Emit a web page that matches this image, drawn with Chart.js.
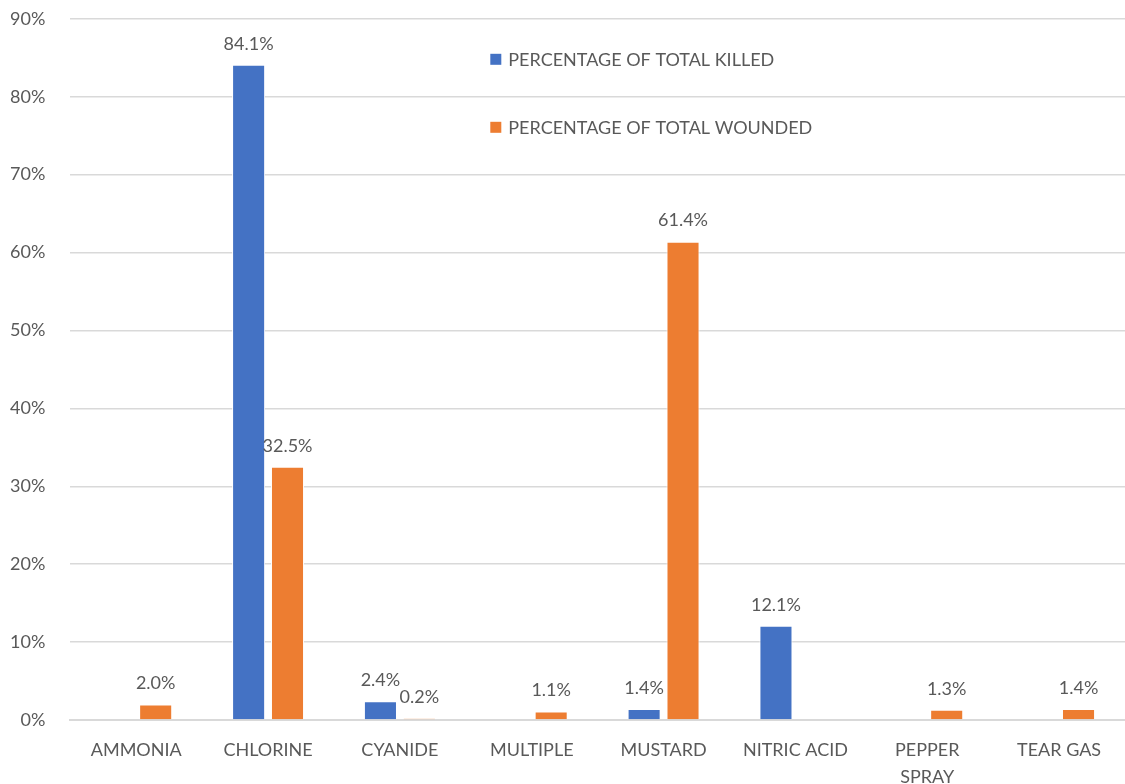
<!DOCTYPE html>
<html>
<head>
<meta charset="utf-8">
<script src="https://cdn.jsdelivr.net/npm/chart.js@4/dist/chart.umd.min.js"></script>
<style>
  html, body { margin: 0; padding: 0; background: #fff; }
  #wrap { width: 1125px; height: 784px; }
</style>
</head>
<body>
<div id="wrap"><canvas id="myChart" width="1125" height="784"></canvas></div>
<script>
let agents = ["AMMONIA", "CHLORINE", "CYANIDE", "MULTIPLE", "MUSTARD", "NITRIC ACID", ["PEPPER", "SPRAY"], "TEAR GAS"];
let killed = [0, 84.1, 2.4, 0, 1.4, 12.1, 0, 0];
let wounded = [2.0, 32.5, 0.2, 1.1, 61.4, 0, 1.3, 1.4];
let yTicks = [0, 10, 20, 30, 40, 50, 60, 70, 80, 90];

let fontName = "Lato, 'Open Sans', sans-serif";
let grey = '#595959';

// value labels above every non-zero bar
let barLabels = {
    id: 'barLabels',
    afterDatasetsDraw(chart) {
        let c = chart.ctx;
        c.save();
        c.font = '18px ' + fontName;
        c.fillStyle = grey;
        c.textAlign = 'center';
        c.textBaseline = 'bottom';
        chart.data.datasets.forEach((ds, i) => {
            chart.getDatasetMeta(i).data.forEach((bar, j) => {
                if (!ds.data[j]) return;
                c.fillText(ds.data[j].toFixed(1) + '%', bar.x, bar.y - 12);
            });
        });
        c.restore();
    }
};

// legend sits inside the plot, one entry per row
let innerLegend = {
    id: 'innerLegend',
    afterDraw(chart) {
        let c = chart.ctx;
        let area = chart.chartArea;
        let x = area.left + 420;
        c.save();
        c.font = '18px ' + fontName;
        c.textBaseline = 'middle';
        chart.data.datasets.forEach((ds, i) => {
            let y = area.top + 41 + i * 68;
            c.fillStyle = ds.backgroundColor;
            c.fillRect(x, y - 6, 11, 11);
            c.fillStyle = grey;
            c.fillText(ds.label, x + 18, y);
        });
        c.restore();
    }
};

let ctx = document.getElementById('myChart').getContext('2d');
let myChart = new Chart(ctx, {
    type: 'bar',
    data: {
        labels: agents,
        datasets: [{
            label: 'PERCENTAGE OF TOTAL KILLED',
            data: killed,
            backgroundColor: '#4472C4',
            borderColor: '#ffffff',
            borderWidth: 1,
            barPercentage: 0.85,
            categoryPercentage: 0.59
        }, {
            label: 'PERCENTAGE OF TOTAL WOUNDED',
            data: wounded,
            backgroundColor: '#ED7D31',
            borderColor: '#ffffff',
            borderWidth: 1,
            barPercentage: 0.85,
            categoryPercentage: 0.59
        }]
    },
    options: {
        responsive: false,
        animation: false,
        layout: { padding: { top: 0, right: 0, left: 2, bottom: -16 } },
        plugins: {
            legend: { display: false },
            tooltip: { enabled: false }
        },
        scales: {
            x: {
                grid: { display: false },
                border: { color: '#D9D9D9', width: 2 },
                ticks: {
                    color: grey,
                    font: { family: fontName, size: 18, lineHeight: 1.5 },
                    maxRotation: 0,
                    autoSkip: false,
                    padding: 9
                }
            },
            y: {
                min: 0,
                max: 90,
                afterBuildTicks(axis) {
                    axis.ticks = yTicks.map(v => ({ value: v }));
                },
                grid: {
                    color: '#D9D9D9',
                    lineWidth: 1.5,
                    drawTicks: true,
                    tickLength: 17,
                    tickColor: 'rgba(0,0,0,0)'
                },
                border: { display: false },
                ticks: {
                    color: grey,
                    font: { family: fontName, size: 18 },
                    padding: 8,
                    callback: v => v + '%'
                }
            }
        }
    },
    plugins: [barLabels, innerLegend]
});
</script>
</body>
</html>
